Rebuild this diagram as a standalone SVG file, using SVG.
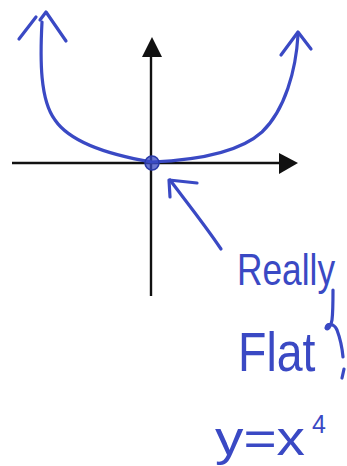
<svg xmlns="http://www.w3.org/2000/svg" width="347" height="466" viewBox="0 0 347 466">
<style>
.ink{fill:none;stroke:#3a49c4;stroke-width:3.2;stroke-linecap:round;stroke-linejoin:round}
.axis{fill:none;stroke:#111;stroke-width:2.4}
.hand{fill:#3a49c4;font-family:"Liberation Sans",Arial,sans-serif}
</style>
<rect width="347" height="466" fill="#fff"/>
<g id="axes">
<line class="axis" x1="12" y1="163" x2="282" y2="163"/>
<polygon points="279,153 298,163 279,174" fill="#111"/>
<line class="axis" x1="151" y1="54" x2="151" y2="296"/>
<polygon points="142,57 152,37 162,57" fill="#111"/>
</g>
<g id="curve">
<path class="ink" d="M42,22 C40,60 40,100 55,120 C70,142 110,155 152,162 C200,160 240,152 262,132 C285,110 296,70 298,35"/>
<polyline class="ink" points="19,39 36,17"/>
<polyline class="ink" points="40,20 46,12 66,41"/>
<polyline class="ink" points="281,55 298,32 311,49"/>
<circle cx="152" cy="163" r="7" fill="#3a49c4" fill-opacity="0.75" stroke="#2a3aa8" stroke-width="1.5"/>
</g>
<g id="pointer">
<path class="ink" d="M221,249 C205,225 185,200 170,180"/>
<polyline class="ink" points="170,197 169,180 197,183"/>
</g>
<g id="labels">
<text class="hand" transform="translate(237,285) scale(0.98,1.22)" x="0" y="0" font-size="36">Really</text>
<path class="ink" stroke-width="2.6" d="M333,290 C333,302 333,312 332,320 C331,327 327,331 326,328 C327,323 334,323 337,330 C340,338 342,346 343,357"/>
<path class="ink" stroke-width="2.6" d="M344,369 L342,378"/>
<text class="hand" transform="translate(238,371) scale(0.83,1)" x="0" y="0" font-size="56">Flat</text>
<text class="hand" x="215" y="455" font-size="48" textLength="90" lengthAdjust="spacingAndGlyphs">y=x</text>
<text class="hand" x="312" y="433" font-size="25">4</text>
</g>
</svg>
